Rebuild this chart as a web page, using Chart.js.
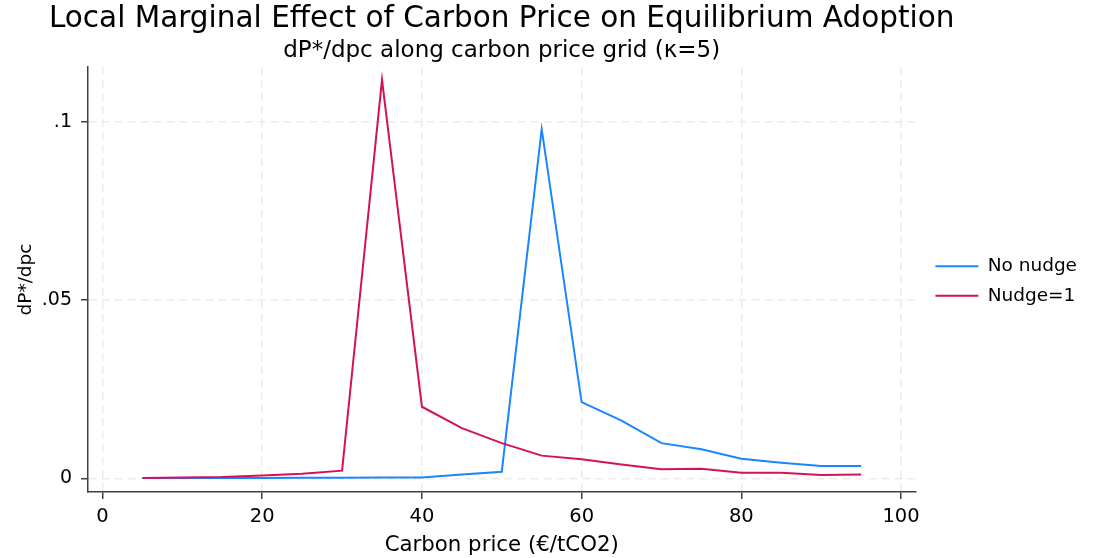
<!DOCTYPE html>
<html>
<head>
<meta charset="utf-8">
<script src="https://cdn.jsdelivr.net/npm/chart.js@4.4.1/dist/chart.umd.min.js"></script>
<style>
  html, body { margin: 0; padding: 0; background: #fff; }
</style>
</head>
<body>
<canvas id="lineChart" width="1098" height="558"></canvas>
<script>
// carbon price grid (EUR/tCO2) and dP*/dpc at each grid point
var carbonPrice = [5, 10, 15, 20, 25, 30, 35, 40, 45, 50, 55, 60, 65, 70, 75, 80, 85, 90, 95]
var noNudge = [0.0001, 0.0001, 0.0001, 0.0001, 0.0002, 0.0002, 0.0003, 0.0003, 0.0011, 0.0019,
               0.0979, 0.0214, 0.0162, 0.0099, 0.0082, 0.0055, 0.0044, 0.0035, 0.0035]
var nudgeOne = [0.0001, 0.0003, 0.0004, 0.0008, 0.0013, 0.0022, 0.1117, 0.0201, 0.0141, 0.0099,
                0.0064, 0.0054, 0.0039, 0.0026, 0.0027, 0.0016, 0.0016, 0.0010, 0.0011]
var xTicks = [0, 20, 40, 60, 80, 100]
var yTicks = [0, 0.05, 0.1]

var fontFamily = "'DejaVu Sans', sans-serif"
var blue = '#1a85ff'
var red = '#d41159'
var axisColor = '#404040'
var gridColor = '#ebebeb'

// after layout: let the main title run wider than the plot (it stays centred on it)
// and move the legend a bit away from the plot edge
var layoutTweaks = {
  id: 'layoutTweaks',
  afterLayout(chart) {
    var t = chart.titleBlock
    t.left -= 80
    t.right += 80
    t.width += 160

    var lg = chart.legend
    lg.left += 9
    lg.right += 9
    lg.top += 2
    lg.bottom += 2
  }
}

function fmtY(v) {
  if (v === 0) return '0'
  return String(+v.toFixed(3)).replace(/^0\./, '.')
}

var canvas = document.getElementById('lineChart').getContext('2d')

var chart = new Chart(canvas, {
  type: 'line',
  data: {
    labels: carbonPrice,
    datasets: [
      {
        label: 'No nudge',
        data: carbonPrice.map((x, i) => ({x: x, y: noNudge[i]})),
        borderColor: blue,
        backgroundColor: blue,
        borderWidth: 2,
        pointRadius: 0,
        tension: 0,
        fill: false,
        order: 1
      },
      {
        // drawn over the blue line
        label: 'Nudge=1',
        data: carbonPrice.map((x, i) => ({x: x, y: nudgeOne[i]})),
        borderColor: red,
        backgroundColor: red,
        borderWidth: 2,
        pointRadius: 0,
        tension: 0,
        fill: false,
        order: 0
      }
    ]
  },
  plugins: [layoutTweaks],
  options: {
    responsive: false,
    animation: false,
    layout: { padding: { right: 20 } },
    plugins: {
      title: {
        display: true,
        fullSize: false,
        text: 'Local Marginal Effect of Carbon Price on Equilibrium Adoption',
        color: '#000',
        font: { family: fontFamily, size: 29.5, weight: 'normal', lineHeight: 1 },
        padding: { top: 4.5, bottom: 0 }
      },
      subtitle: {
        display: true,
        fullSize: false,
        text: 'dP*/dpc along carbon price grid (\u03ba=5)',
        color: '#000',
        font: { family: fontFamily, size: 23, weight: 'normal', lineHeight: 1 },
        padding: { top: 5.5, bottom: 4.5 }
      },
      legend: {
        position: 'right',
        align: 'center',
        labels: {
          boxWidth: 43,
          boxHeight: 2,
          padding: 11,
          color: '#000',
          font: { family: fontFamily, size: 18.5 },
          generateLabels(chart) {
            // keep dataset order in the legend, plain line swatches
            return Chart.defaults.plugins.legend.labels.generateLabels(chart)
              .sort((a, b) => a.datasetIndex - b.datasetIndex)
              .map(function (l) {
                l.lineWidth = 0
                return l
              })
          }
        }
      },
      tooltip: { enabled: false }
    },
    scales: {
      x: {
        type: 'linear',
        min: -1.82,
        max: 101.8,
        afterBuildTicks(scale) {
          scale.ticks = xTicks.map(v => ({value: v}))
        },
        afterFit(scale) { scale.height = 66 },
        grid: {
          color: gridColor,
          lineWidth: 1.5,
          tickColor: axisColor,
          tickWidth: 1.5,
          tickLength: 7
        },
        border: { display: true, color: axisColor, width: 1.5, dash: [8, 5] },
        ticks: {
          color: '#000',
          padding: 6.5,
          maxRotation: 0,
          font: { family: fontFamily, size: 19.5 },
          callback: v => String(v)
        },
        title: {
          display: true,
          text: 'Carbon price (\u20ac/tCO2)',
          color: '#000',
          font: { family: fontFamily, size: 21.3, lineHeight: 1 },
          padding: { top: 0, bottom: 2 }
        }
      },
      y: {
        type: 'linear',
        min: -0.00379,
        max: 0.1153,
        afterBuildTicks(scale) {
          scale.ticks = yTicks.map(v => ({value: v}))
        },
        afterFit(scale) { scale.width = 88 },
        grid: {
          color: gridColor,
          lineWidth: 1.5,
          tickColor: axisColor,
          tickWidth: 1.5,
          tickLength: 7
        },
        border: { display: true, color: axisColor, width: 1.5, dash: [8, 5] },
        ticks: {
          color: '#000',
          padding: 9,
          font: { family: fontFamily, size: 19 },
          callback: v => fmtY(v)
        },
        title: {
          display: true,
          text: 'dP*/dpc',
          color: '#000',
          font: { family: fontFamily, size: 18.5, lineHeight: 1 },
          padding: { top: 16.75, bottom: 0 }
        }
      }
    }
  }
})
</script>
</body>
</html>
